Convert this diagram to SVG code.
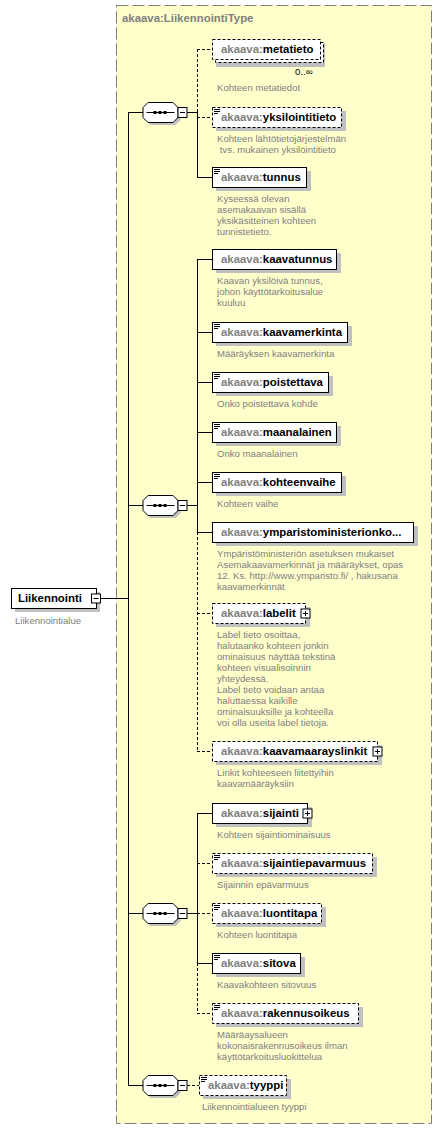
<svg xmlns="http://www.w3.org/2000/svg" width="442" height="1130" viewBox="0 0 442 1130">
<style>
.bg{fill:#ffffcc;stroke:#808080;stroke-dasharray:12,4}
.box{fill:#fff;stroke:#000}
.opt{stroke-dasharray:3,2}
.sh{fill:#c0c0c0}
.ln{stroke:#000;fill:none}
.dl{stroke:#000;fill:none;stroke-dasharray:3,2}
.nm{font-family:"Liberation Sans",Arial,sans-serif;font-size:11.4px;font-weight:bold;fill:#000}
.ns{fill:#808080}
.ds{font-family:"Liberation Sans",Arial,sans-serif;font-size:9.6px;fill:#808080;white-space:pre}
.ic{stroke:#000;fill:none}
</style>
<defs>
<g id="seq">
<polygon points="8,3 33,3 38,8 38,18 33,23 8,23 3,18 3,8" class="sh"/>
<polygon points="5.5,0.5 30.5,0.5 35.5,5.5 35.5,15.5 30.5,20.5 5.5,20.5 0.5,15.5 0.5,5.5" class="box"/>
<line x1="4" y1="10.5" x2="32" y2="10.5" class="ln"/>
<rect x="11" y="9" width="3" height="3" fill="#000"/>
<rect x="16" y="9" width="3" height="3" fill="#000"/>
<rect x="21" y="9" width="3" height="3" fill="#000"/>
<rect x="35.5" y="5.5" width="9" height="10" class="box"/>
<line x1="37.5" y1="10.5" x2="42.5" y2="10.5" class="ln"/>
</g>
<g id="icon">
<line x1="2" y1="2.5" x2="8" y2="2.5" class="ic"/>
<line x1="2" y1="4.5" x2="8" y2="4.5" class="ic"/>
<line x1="2" y1="6.5" x2="6" y2="6.5" class="ic"/>
</g>
<g id="plus">
<rect x="-4.5" y="-4.5" width="9" height="9" class="box"/>
<line x1="-2.5" y1="0" x2="2.5" y2="0" class="ln"/>
<line x1="0" y1="-2.5" x2="0" y2="2.5" class="ln"/>
</g>
<g id="minus">
<rect x="-4.5" y="-4.5" width="9" height="9" class="box"/>
<line x1="-2.5" y1="0" x2="2.5" y2="0" class="ln"/>
</g>
</defs>
<rect x="116.5" y="5.5" width="315" height="1118" class="bg"/>
<text x="122" y="22" class="nm ns">akaava:LiikennointiType</text>

<g id="connectors">
<line x1="100" y1="598.5" x2="128" y2="598.5" class="ln"/>
<line x1="128.5" y1="112" x2="128.5" y2="1086" class="ln"/>
<line x1="128" y1="112.5" x2="143" y2="112.5" class="ln"/>
<line x1="128" y1="505.5" x2="143" y2="505.5" class="ln"/>
<line x1="128" y1="913.5" x2="143" y2="913.5" class="ln"/>
<line x1="128" y1="1085.5" x2="143" y2="1085.5" class="ln"/>
<line x1="187" y1="112.5" x2="197" y2="112.5" class="ln"/>
<line x1="187" y1="505.5" x2="197" y2="505.5" class="ln"/>
<line x1="187" y1="913.5" x2="197" y2="913.5" class="ln"/>
<line x1="187" y1="1085.5" x2="199" y2="1085.5" class="dl"/>
<line x1="197.5" y1="49" x2="197.5" y2="112" class="dl"/>
<line x1="197.5" y1="112" x2="197.5" y2="177.5" class="ln"/>
<line x1="197.5" y1="259" x2="197.5" y2="532" class="ln"/>
<line x1="197.5" y1="532" x2="197.5" y2="751.5" class="dl"/>
<line x1="197.5" y1="813" x2="197.5" y2="963" class="ln"/>
<line x1="197.5" y1="963" x2="197.5" y2="1013.5" class="dl"/>
<line x1="197" y1="49.5" x2="212" y2="49.5" class="dl"/>
<line x1="197" y1="117.5" x2="212" y2="117.5" class="dl"/>
<line x1="197" y1="177.5" x2="212" y2="177.5" class="ln"/>
<line x1="197" y1="259.5" x2="212" y2="259.5" class="ln"/>
<line x1="197" y1="332.5" x2="212" y2="332.5" class="ln"/>
<line x1="197" y1="382.5" x2="212" y2="382.5" class="ln"/>
<line x1="197" y1="432.5" x2="212" y2="432.5" class="ln"/>
<line x1="197" y1="482.5" x2="212" y2="482.5" class="ln"/>
<line x1="197" y1="532.5" x2="212" y2="532.5" class="ln"/>
<line x1="197" y1="613.5" x2="212" y2="613.5" class="dl"/>
<line x1="197" y1="751.5" x2="212" y2="751.5" class="dl"/>
<line x1="197" y1="813.5" x2="212" y2="813.5" class="ln"/>
<line x1="197" y1="863.5" x2="212" y2="863.5" class="dl"/>
<line x1="197" y1="913.5" x2="212" y2="913.5" class="dl"/>
<line x1="197" y1="963.5" x2="212" y2="963.5" class="ln"/>
<line x1="197" y1="1013.5" x2="212" y2="1013.5" class="dl"/>
</g>

<g id="seq1"><use href="#seq" x="142.5" y="102"/></g>
<g id="seq2"><use href="#seq" x="142.5" y="495"/></g>
<g id="seq3"><use href="#seq" x="142.5" y="903"/></g>
<g id="seq4"><use href="#seq" x="142.5" y="1075"/></g>

<g id="root">
<rect x="15" y="592" width="85" height="20" class="sh"/>
<rect x="11.5" y="588.5" width="85" height="20" class="box"/>
<text x="18" y="602" class="nm">Liikennointi</text>
<use href="#minus" x="96" y="598.5"/>
<text x="15" y="624" class="ds">Liikennointialue</text>
</g>

<g id="metatieto">
<rect x="216" y="43" width="109" height="24" class="sh"/>
<rect x="215.5" y="42.5" width="108" height="20" class="box opt"/>
<rect x="212.5" y="39.5" width="108" height="20" class="box opt"/>
<text x="221" y="53" class="nm"><tspan class="ns">akaava:</tspan>metatieto</text>
<text x="295" y="75" class="ds" style="fill:#000">0..∞</text>
<text x="217" y="91" class="ds">Kohteen metatiedot</text>
</g>

<g id="yksilointitieto">
<rect x="216" y="111" width="130" height="20" class="sh"/>
<rect x="212.5" y="107.5" width="129" height="20" class="box opt"/>
<use href="#icon" x="212" y="107"/>
<text x="221" y="121" class="nm"><tspan class="ns">akaava:</tspan>yksilointitieto</text>
<text x="217" y="141.5" class="ds">Kohteen lähtötietojärjestelmän</text>
<text x="217" y="152.5" class="ds"> tvs. mukainen yksilöintitieto</text>
</g>

<g id="tunnus">
<rect x="216" y="171" width="95" height="20" class="sh"/>
<rect x="212.5" y="167.5" width="94" height="20" class="box"/>
<use href="#icon" x="212" y="167"/>
<text x="221" y="181" class="nm"><tspan class="ns">akaava:</tspan>tunnus</text>
<text x="217" y="201.5" class="ds">Kyseessä olevan</text>
<text x="217" y="212.5" class="ds">asemakaavan sisällä</text>
<text x="217" y="223.5" class="ds">yksikäsitteinen kohteen</text>
<text x="217" y="234.5" class="ds">tunnistetieto.</text>
</g>

<g id="kaavatunnus">
<rect x="216" y="253" width="125" height="20" class="sh"/>
<rect x="212.5" y="249.5" width="124" height="20" class="box"/>
<text x="221" y="263" class="nm"><tspan class="ns">akaava:</tspan>kaavatunnus</text>
<text x="217" y="283.5" class="ds">Kaavan yksilöivä tunnus,</text>
<text x="217" y="294.5" class="ds">johon käyttötarkoitusalue</text>
<text x="217" y="305.5" class="ds">kuuluu</text>
</g>

<g id="kaavamerkinta">
<rect x="216" y="326" width="136" height="20" class="sh"/>
<rect x="212.5" y="322.5" width="135" height="20" class="box"/>
<use href="#icon" x="212" y="322"/>
<text x="221" y="336" class="nm"><tspan class="ns">akaava:</tspan>kaavamerkinta</text>
<text x="217" y="356.5" class="ds">Määräyksen kaavamerkinta</text>
</g>

<g id="poistettava">
<rect x="216" y="376" width="117" height="20" class="sh"/>
<rect x="212.5" y="372.5" width="116" height="20" class="box"/>
<use href="#icon" x="212" y="372"/>
<text x="221" y="386" class="nm"><tspan class="ns">akaava:</tspan>poistettava</text>
<text x="217" y="406.5" class="ds">Onko poistettava kohde</text>
</g>

<g id="maanalainen">
<rect x="216" y="426" width="125" height="20" class="sh"/>
<rect x="212.5" y="422.5" width="124" height="20" class="box"/>
<use href="#icon" x="212" y="422"/>
<text x="221" y="436" class="nm"><tspan class="ns">akaava:</tspan>maanalainen</text>
<text x="217" y="456.5" class="ds">Onko maanalainen</text>
</g>

<g id="kohteenvaihe">
<rect x="216" y="476" width="130" height="20" class="sh"/>
<rect x="212.5" y="472.5" width="129" height="20" class="box"/>
<use href="#icon" x="212" y="472"/>
<text x="221" y="486" class="nm"><tspan class="ns">akaava:</tspan>kohteenvaihe</text>
<text x="217" y="506.5" class="ds">Kohteen vaihe</text>
</g>

<g id="ymparistoministerionkoodi">
<rect x="216" y="526" width="202" height="20" class="sh"/>
<rect x="212.5" y="522.5" width="201" height="20" class="box"/>
<text x="221" y="536" class="nm"><tspan class="ns">akaava:</tspan>ymparistoministerionko...</text>
<text x="217" y="556.5" class="ds">Ympäristöministeriön asetuksen mukaiset</text>
<text x="217" y="567.5" class="ds">Asemakaavamerkinnät ja määräykset, opas</text>
<text x="217" y="578.5" class="ds">12. Ks. http://www.ymparisto.fi/ , hakusana</text>
<text x="217" y="589.5" class="ds">kaavamerkinnät</text>
</g>

<g id="labelit">
<rect x="216" y="607" width="94" height="20" class="sh"/>
<rect x="212.5" y="603.5" width="93" height="20" class="box opt"/>
<text x="221" y="617" class="nm"><tspan class="ns">akaava:</tspan>labelit</text>
<use href="#plus" x="305.5" y="613.5"/>
<text x="217" y="638" class="ds">Label tieto osoittaa,</text>
<text x="217" y="649" class="ds">halutaanko kohteen jonkin</text>
<text x="217" y="660" class="ds">ominaisuus näyttää tekstinä</text>
<text x="217" y="671" class="ds">kohteen visualisoinnin</text>
<text x="217" y="682" class="ds">yhteydessä.</text>
<text x="217" y="693" class="ds">Label tieto voidaan antaa</text>
<text x="217" y="704" class="ds">haluttaessa kaikille</text>
<text x="217" y="715" class="ds">ominaisuuksille ja kohteella</text>
<text x="217" y="726" class="ds">voi olla useita label tietoja.</text>
</g>

<g id="kaavamaarayslinkit">
<rect x="216" y="745" width="166" height="20" class="sh"/>
<rect x="212.5" y="741.5" width="165" height="20" class="box opt"/>
<text x="221" y="755" class="nm"><tspan class="ns">akaava:</tspan>kaavamaarayslinkit</text>
<use href="#plus" x="377.5" y="751.5"/>
<text x="217" y="775.5" class="ds">Linkit kohteeseen liitettyihin</text>
<text x="217" y="786.5" class="ds">kaavamääräyksiin</text>
</g>

<g id="sijainti">
<rect x="216" y="807" width="96" height="20" class="sh"/>
<rect x="212.5" y="803.5" width="95" height="20" class="box"/>
<text x="221" y="817" class="nm"><tspan class="ns">akaava:</tspan>sijainti</text>
<use href="#plus" x="307.5" y="813.5"/>
<text x="217" y="837.5" class="ds">Kohteen sijaintiominaisuus</text>
</g>

<g id="sijaintiepavarmuus">
<rect x="216" y="857" width="161" height="20" class="sh"/>
<rect x="212.5" y="853.5" width="160" height="20" class="box opt"/>
<use href="#icon" x="212" y="853"/>
<text x="221" y="867" class="nm"><tspan class="ns">akaava:</tspan>sijaintiepavarmuus</text>
<text x="217" y="887.5" class="ds">Sijainnin epävarmuus</text>
</g>

<g id="luontitapa">
<rect x="216" y="907" width="110" height="20" class="sh"/>
<rect x="212.5" y="903.5" width="109" height="20" class="box opt"/>
<use href="#icon" x="212" y="903"/>
<text x="221" y="917" class="nm"><tspan class="ns">akaava:</tspan>luontitapa</text>
<text x="217" y="937.5" class="ds">Kohteen luontitapa</text>
</g>

<g id="sitova">
<rect x="216" y="957" width="89" height="20" class="sh"/>
<rect x="212.5" y="953.5" width="88" height="20" class="box"/>
<use href="#icon" x="212" y="953"/>
<text x="221" y="967" class="nm"><tspan class="ns">akaava:</tspan>sitova</text>
<text x="217" y="987.5" class="ds">Kaavakohteen sitovuus</text>
</g>

<g id="rakennusoikeus">
<rect x="216" y="1007" width="147" height="20" class="sh"/>
<rect x="212.5" y="1003.5" width="146" height="20" class="box opt"/>
<use href="#icon" x="212" y="1003"/>
<text x="221" y="1017" class="nm"><tspan class="ns">akaava:</tspan>rakennusoikeus</text>
<text x="217" y="1037.5" class="ds">Määräaysalueen</text>
<text x="217" y="1048.5" class="ds">kokonaisrakennusoikeus ilman</text>
<text x="217" y="1059.5" class="ds">käyttötarkoitusluokittelua</text>
</g>

<g id="tyyppi">
<rect x="203" y="1079" width="88" height="20" class="sh"/>
<rect x="199.5" y="1075.5" width="87" height="20" class="box opt"/>
<use href="#icon" x="199" y="1075"/>
<text x="208" y="1089" class="nm"><tspan class="ns">akaava:</tspan>tyyppi</text>
<text x="202" y="1109.5" class="ds">Liikennointialueen tyyppi</text>
</g>
</svg>
